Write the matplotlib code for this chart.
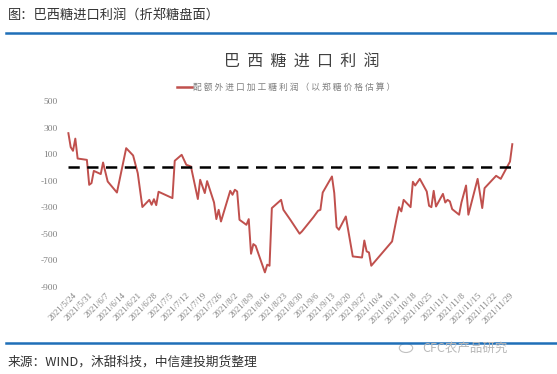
import numpy as np
import pandas as pd
import matplotlib
matplotlib.use("Agg")
import matplotlib.pyplot as plt
import matplotlib.dates as mdates
from matplotlib.lines import Line2D
from matplotlib.patches import Circle

plt.rcParams['font.family'] = ['Noto Sans CJK SC', 'DejaVu Sans']

# data (yuan/ton)
dates = ["2021-05-22", "2021-05-23", "2021-05-24", "2021-05-25", "2021-05-26",
         "2021-05-30", "2021-05-31", "2021-06-01", "2021-06-02", "2021-06-05",
         "2021-06-06", "2021-06-08", "2021-06-12", "2021-06-16", "2021-06-19",
         "2021-06-21", "2021-06-23", "2021-06-26", "2021-06-27", "2021-06-28",
         "2021-06-29", "2021-06-30", "2021-07-06", "2021-07-07", "2021-07-10",
         "2021-07-12", "2021-07-14", "2021-07-17", "2021-07-18", "2021-07-20",
         "2021-07-21", "2021-07-24", "2021-07-25", "2021-07-26", "2021-07-27",
         "2021-07-31", "2021-08-01", "2021-08-02", "2021-08-03", "2021-08-04",
         "2021-08-07", "2021-08-08", "2021-08-09", "2021-08-10", "2021-08-11",
         "2021-08-15", "2021-08-16", "2021-08-17", "2021-08-18", "2021-08-22",
         "2021-08-23", "2021-08-26", "2021-08-30", "2021-08-31", "2021-09-05",
         "2021-09-07", "2021-09-08", "2021-09-09", "2021-09-13", "2021-09-14",
         "2021-09-15", "2021-09-16", "2021-09-19", "2021-09-22", "2021-09-26",
         "2021-09-27", "2021-09-28", "2021-09-29", "2021-09-30", "2021-10-09",
         "2021-10-11", "2021-10-12", "2021-10-13", "2021-10-14", "2021-10-17",
         "2021-10-18", "2021-10-19", "2021-10-21", "2021-10-24", "2021-10-25",
         "2021-10-26", "2021-10-27", "2021-10-28", "2021-10-31", "2021-11-01",
         "2021-11-02", "2021-11-03", "2021-11-04", "2021-11-07", "2021-11-08",
         "2021-11-10", "2021-11-11", "2021-11-15", "2021-11-17", "2021-11-18",
         "2021-11-23", "2021-11-25", "2021-11-29", "2021-11-30"]
profit = [258, 153, 125, 217, 67,
          57, -131, -118, -26, -50,
          37, -106, -189, 145, 90,
          -43, -298, -244, -281, -239,
          -284, -183, -231, 50, 95,
          20, 7, -238, -93, -193,
          -103, -264, -389, -319, -407,
          -176, -206, -168, -181, -394,
          -432, -389, -650, -577, -590,
          -790, -732, -740, -306, -244,
          -319, -394, -499, -482, -374,
          -326, -319, -189, -68, -193,
          -449, -469, -369, -670, -678,
          -550, -632, -640, -740, -557,
          -381, -299, -331, -244, -299,
          -108, -136, -86, -181, -289,
          -299, -176, -294, -199, -264,
          -244, -256, -314, -356, -264,
          -136, -356, -86, -306, -156,
          -63, -86, 44, 175]
tick_dates = pd.date_range("2021-05-24", "2021-11-29", freq="7D")
yticks = [500, 300, 100, -100, -300, -500, -700, -900]

x = pd.to_datetime(dates)

fig = plt.figure(figsize=(5.57, 3.74), dpi=100)
ax = fig.add_axes([66 / 557, 1 - 287 / 374, 450 / 557, 186 / 374])

red = "#C0504D"
ax.plot(x, profit, color=red, lw=1.4)
ax.plot([x[0], x[-1]], [0, 0], color="black", lw=1.8, dashes=(4.5, 3))

d0 = pd.Timestamp("2021-05-24")
ax.set_xlim(d0 - pd.Timedelta(days=3.03), d0 + pd.Timedelta(days=191.6))
ax.set_ylim(-900, 500)
ax.set_yticks(yticks)
ax.set_yticklabels([str(v) for v in yticks], family="Liberation Serif",
                   fontsize=6.8, color="#808080")
ax.set_xticks(tick_dates)
ax.set_xticklabels([f"{d.year}/{d.month}/{d.day}" for d in tick_dates],
                   rotation=45, ha="right", rotation_mode="anchor",
                   family="Liberation Serif", fontsize=6.4, color="#808080")
ax.tick_params(length=0, pad=3)
ax.tick_params(axis="y", pad=6)
for s in ax.spines.values():
    s.set_visible(False)

# headings and frame lines
fig.text(8 / 557, 1 - 15 / 374, "图：巴西糖进口利润（折郑糖盘面）", fontsize=9.5,
         color="#333333", va="center", ha="left")
blue = "#1F6FB8"
fig.add_artist(Line2D([6 / 557, 1], [1 - 33 / 374] * 2, color=blue, lw=1.8))
fig.add_artist(Line2D([6 / 557, 1], [1 - 343 / 374] * 2, color=blue, lw=1.8))

fig.text(302 / 557, 1 - 62 / 374, "  ".join("巴西糖进口利润"), fontsize=11.5,
         color="#404040", ha="center", va="center")
fig.add_artist(Line2D([177 / 557, 192 / 557], [1 - 87 / 374] * 2, color=red, lw=1.8))
fig.text(193 / 557, 1 - 87 / 374, " ".join("配额外进口加工糖利润（以郑糖价格估算）"),
         fontsize=6.3, color="#7f7f7f", ha="left", va="center")

fig.text(8 / 557, 1 - 362 / 374, "来源：WIND，沐甜科技，中信建投期货整理", fontsize=9.2,
         color="#333333", va="center", ha="left")
fig.add_artist(Circle((406 / 557, 1 - 348 / 374), 0.012, transform=fig.transFigure,
                      fill=False, ec="#c0c0c0", lw=0.8))
fig.text(422 / 557, 1 - 348 / 374, "CFC农产品研究", fontsize=9, color="#b8b8b8",
         va="center", ha="left")

fig.savefig("out.png", dpi=100)
